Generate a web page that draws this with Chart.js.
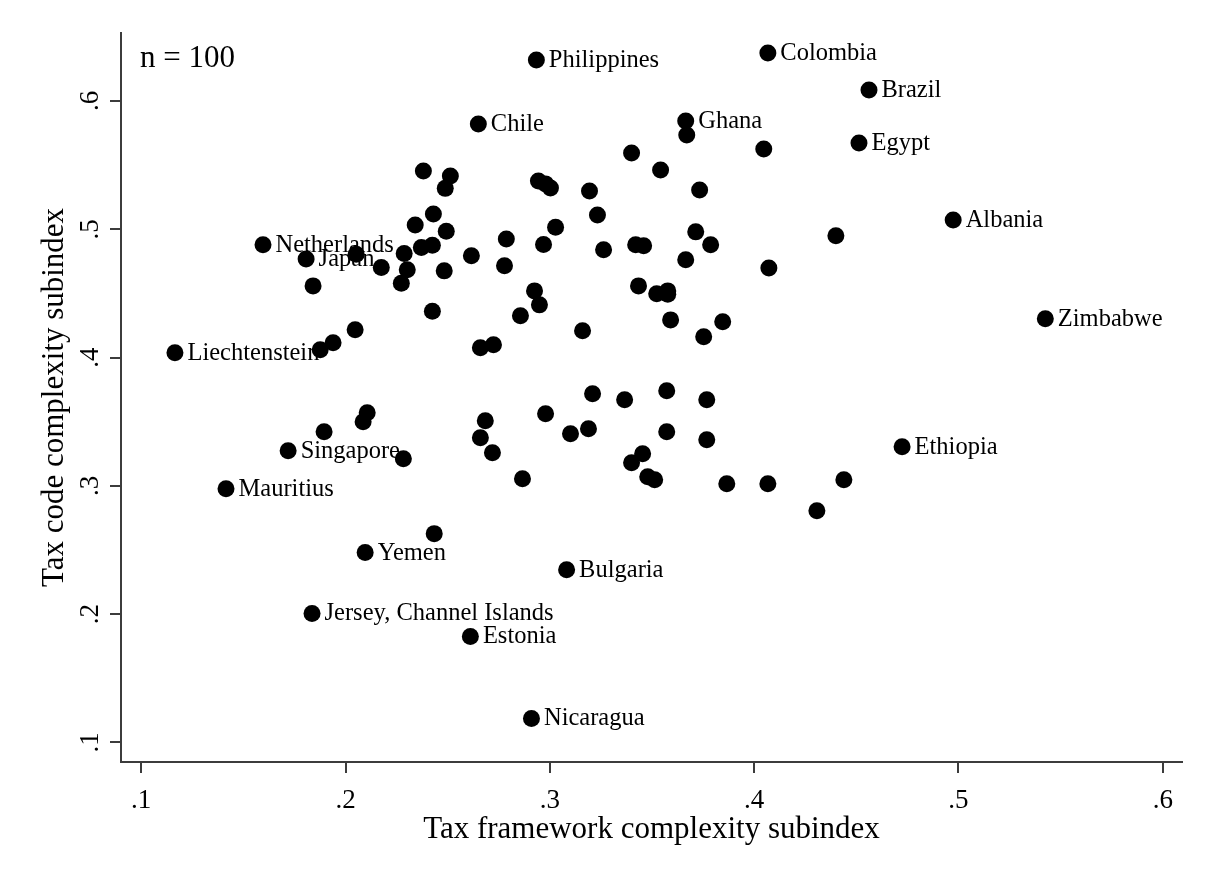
<!DOCTYPE html>
<html>
<head>
<meta charset="utf-8">
<script src="https://cdn.jsdelivr.net/npm/chart.js@4"></script>
<style>
  html, body { margin: 0; padding: 0; background: #fff; }
  #wrap { width: 1212px; height: 884px; position: relative; }
</style>
</head>
<body>
<div id="wrap"><canvas id="chart"></canvas></div>
<script>
// labelled countries
const labelNames = ["Philippines", "Colombia", "Brazil", "Chile", "Ghana", "Egypt", "Albania",
  "Netherlands", "Japan", "Zimbabwe", "Liechtenstein", "Ethiopia", "Singapore", "Mauritius",
  "Yemen", "Bulgaria", "Jersey, Channel Islands", "Estonia", "Nicaragua"];
const labelX = [0.2934, 0.4067, 0.4562, 0.2650, 0.3665, 0.4513, 0.4974,
  0.1596, 0.1807, 0.5425, 0.1165, 0.4724, 0.1719, 0.1415,
  0.2096, 0.3082, 0.1836, 0.2611, 0.2910];
const labelY = [0.6319, 0.6374, 0.6086, 0.5821, 0.5844, 0.5673, 0.5073,
  0.4879, 0.4769, 0.4302, 0.4037, 0.3305, 0.3274, 0.2978,
  0.2480, 0.2347, 0.2005, 0.1826, 0.1187];

// unlabelled countries
const otherX = [0.3670, 0.4047, 0.3400, 0.3542, 0.3733, 0.3194, 0.2381, 0.2513, 0.2488, 0.2944,
  0.2979, 0.3003, 0.3233, 0.2430, 0.2341, 0.3028, 0.3714, 0.2493, 0.2787, 0.2969,
  0.3420, 0.3459, 0.3787, 0.4400, 0.2371, 0.2425, 0.2052, 0.2287, 0.2616, 0.3263,
  0.3665, 0.4072, 0.2175, 0.2302, 0.2483, 0.2778, 0.2273, 0.1841, 0.3434, 0.3523,
  0.3577, 0.3577, 0.2925, 0.2949, 0.2425, 0.2856, 0.3591, 0.3846, 0.3160, 0.3753,
  0.2047, 0.1939, 0.1876, 0.2660, 0.2724, 0.2106, 0.2086, 0.1895, 0.2283, 0.2684,
  0.2660, 0.2719, 0.2866, 0.2979, 0.3101, 0.3189, 0.3209, 0.3366, 0.3572, 0.3768,
  0.3572, 0.3768, 0.3454, 0.3400, 0.3479, 0.3513, 0.3866, 0.4067, 0.4439, 0.4307,
  0.2434];
const otherY = [0.5735, 0.5626, 0.5595, 0.5463, 0.5307, 0.5299, 0.5455, 0.5416, 0.5319, 0.5377,
  0.5354, 0.5322, 0.5112, 0.5120, 0.5034, 0.5016, 0.4980, 0.4984, 0.4925, 0.4882,
  0.4879, 0.4871, 0.4879, 0.4950, 0.4858, 0.4875, 0.4805, 0.4812, 0.4793, 0.4840,
  0.4762, 0.4699, 0.4703, 0.4684, 0.4676, 0.4715, 0.4579, 0.4559, 0.4559, 0.4497,
  0.4520, 0.4493, 0.4520, 0.4411, 0.4361, 0.4326, 0.4294, 0.4279, 0.4209, 0.4162,
  0.4217, 0.4115, 0.4061, 0.4076, 0.4100, 0.3570, 0.3500, 0.3422, 0.3212, 0.3508,
  0.3375, 0.3259, 0.3056, 0.3562, 0.3407, 0.3445, 0.3718, 0.3671, 0.3741, 0.3671,
  0.3422, 0.3360, 0.3251, 0.3181, 0.3072, 0.3048, 0.3017, 0.3017, 0.3048, 0.2807,
  0.2628];

const xTicks = [0.1, 0.2, 0.3, 0.4, 0.5, 0.6];
const yTicks = [0.1, 0.2, 0.3, 0.4, 0.5, 0.6];
const tickText = v => "." + Math.round(v * 10);

const SERIF = '"Liberation Serif", "Times New Roman", serif';
const AXIS = "#3c3c3c";

const markerLabels = {
  id: "markerLabels",
  afterDatasetsDraw(chart) {
    const ctx = chart.ctx;
    const meta = chart.getDatasetMeta(0);
    ctx.save();
    ctx.fillStyle = "#000";
    ctx.font = "24.5px " + SERIF;
    ctx.textBaseline = "middle";
    ctx.textAlign = "left";
    meta.data.forEach((pt, i) => ctx.fillText(labelNames[i], pt.x + 12.5, pt.y + 0.5));
    ctx.font = "31px " + SERIF;
    ctx.textBaseline = "alphabetic";
    ctx.fillText("n = 100", chart.chartArea.left + 19, chart.chartArea.top + 34);
    ctx.restore();
  }
};

const pts = (xs, ys) => xs.map((x, i) => ({ x: x, y: ys[i] }));
const dotStyle = { backgroundColor: "#000", borderWidth: 0, pointRadius: 8.5, pointHoverRadius: 8.5 };

new Chart(document.getElementById("chart"), {
  type: "scatter",
  data: {
    datasets: [
      { data: pts(labelX, labelY), ...dotStyle },
      { data: pts(otherX, otherY), ...dotStyle }
    ]
  },
  plugins: [markerLabels],
  options: {
    responsive: true,
    maintainAspectRatio: false,
    animation: false,
    layout: { padding: { top: 33, right: 30, left: 0, bottom: 0 } },
    plugins: { legend: { display: false }, tooltip: { enabled: false } },
    scales: {
      x: {
        type: "linear",
        min: 0.0901,
        max: 0.6094,
        afterFit: s => { s.height = 122; },
        afterBuildTicks: s => { s.ticks = xTicks.map(v => ({ value: v })); },
        grid: { drawOnChartArea: false, color: AXIS, lineWidth: 2, tickLength: 11 },
        border: { display: true, color: AXIS, width: 2 },
        ticks: {
          autoSkip: false, maxRotation: 0, padding: 12, color: "#000",
          font: { family: SERIF, size: 27 },
          callback: v => tickText(v)
        },
        title: {
          display: true, text: "Tax framework complexity subindex", color: "#000",
          font: { family: SERIF, size: 31 }, padding: { top: 0, bottom: 36 }
        }
      },
      y: {
        type: "linear",
        min: 0.0848,
        max: 0.653,
        afterFit: s => { s.width = 121; },
        afterBuildTicks: s => { s.ticks = yTicks.map(v => ({ value: v })); },
        grid: { drawOnChartArea: false, color: AXIS, lineWidth: 2, tickLength: 11 },
        border: { display: true, color: AXIS, width: 2 },
        ticks: {
          autoSkip: false, minRotation: 90, maxRotation: 90, crossAlign: "center",
          padding: 9, color: "#000",
          font: { family: SERIF, size: 27 },
          callback: v => tickText(v)
        },
        title: {
          display: true, text: "Tax code complexity subindex", color: "#000",
          font: { family: SERIF, size: 31 }, padding: { top: 36, bottom: 0 }
        }
      }
    }
  }
});
</script>
</body>
</html>
